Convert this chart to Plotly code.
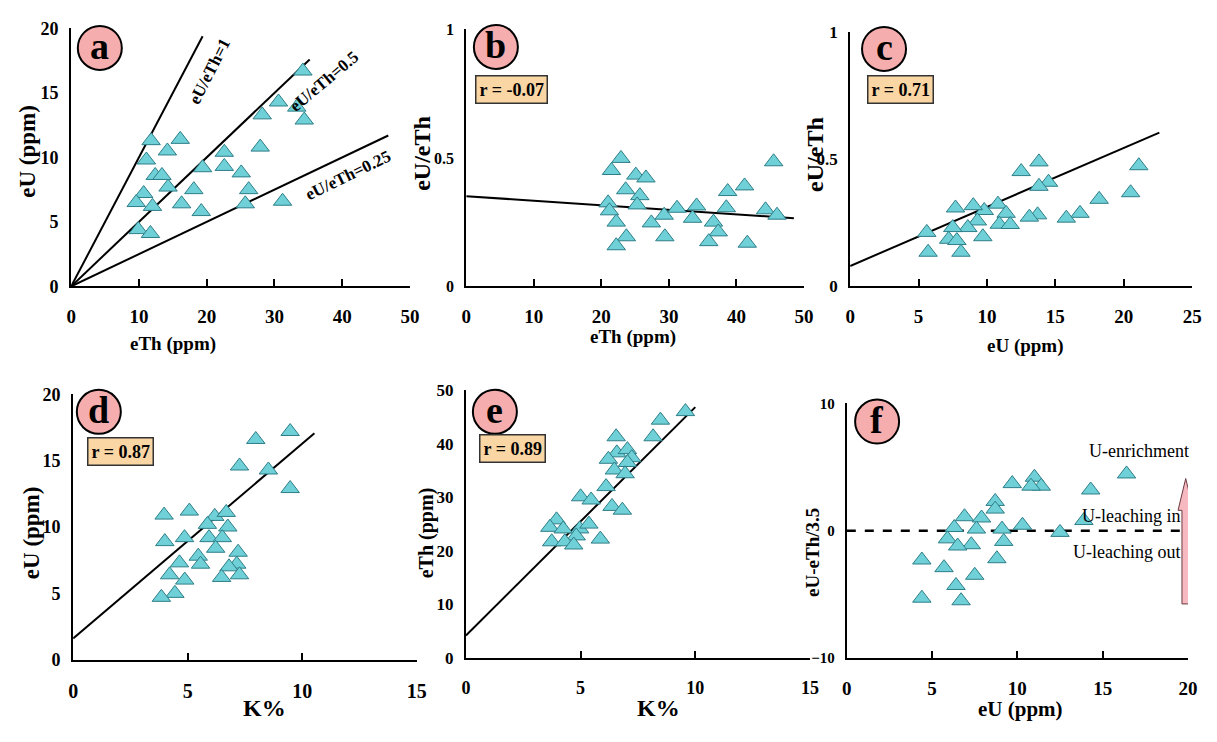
import plotly.graph_objects as go
import numpy as np

W, H = 1217, 742

# ---------------- data ----------------
# Panel a: eTh vs eU
a_eth = [34.2, 30.6, 33.3, 34.4, 28.2, 27.9, 11.8, 16.1, 14.2, 11.1, 22.6, 19.4, 22.6, 25.1,
         12.4, 13.4, 14.3, 18.1, 26.2, 10.7, 9.6, 12.0, 16.3, 19.2, 25.7, 31.2, 9.9, 11.7]
a_eu = [16.7, 14.3, 13.9, 12.9, 13.3, 10.8, 11.3, 11.4, 10.5, 9.8, 10.4, 9.2, 9.3, 8.8,
        8.6, 8.6, 7.7, 7.5, 7.5, 7.2, 6.5, 6.2, 6.4, 5.8, 6.4, 6.6, 4.4, 4.1]
ratio_vals = [1, 0.5, 0.25]
ratio_xend = [19.4, 35.2, 46.8]
ratio_labels = ["eU/eTh=1", "eU/eTh=0.5", "eU/eTh=0.25"]

# Panel b: eTh vs eU/eTh
b_eth = [22.9, 21.5, 25.1, 26.6, 23.6, 25.7, 21.0, 25.3, 21.2, 22.2, 23.7, 22.2, 27.4, 29.3,
         29.4, 31.2, 33.5, 34.1, 36.6, 37.3, 35.9, 38.7, 38.5, 41.2, 41.6, 44.3, 45.5, 46.0]
b_ratio = [0.498, 0.451, 0.433, 0.422, 0.376, 0.353, 0.325, 0.317, 0.294, 0.250, 0.193, 0.158,
           0.247, 0.277, 0.193, 0.304, 0.265, 0.313, 0.250, 0.212, 0.174, 0.369, 0.306, 0.391,
           0.168, 0.298, 0.485, 0.277]
b_fit = dict(intercept=0.351, slope=-0.00177, xmax=48.5, r="r = -0.07")

# Panel c: eU vs eU/eTh
c_eu = [13.8, 12.5, 14.5, 13.8, 21.1, 20.5, 18.2, 16.8, 15.8, 13.7, 13.1, 10.8, 11.4, 10.9,
        11.7, 9.8, 9.0, 7.7, 9.3, 8.6, 7.5, 9.7, 5.6, 7.2, 7.8, 8.1, 5.7]
c_ratio = [0.489, 0.451, 0.409, 0.393, 0.474, 0.368, 0.342, 0.287, 0.268, 0.281, 0.272, 0.323,
           0.287, 0.244, 0.243, 0.298, 0.317, 0.308, 0.257, 0.231, 0.231, 0.195, 0.212, 0.185,
           0.180, 0.134, 0.134]
c_fit = dict(intercept=0.080, slope=0.0232, xmax=22.6, r="r = 0.71")

# Panel d: K% vs eU
d_k = [9.47, 7.97, 7.26, 8.52, 9.47, 3.97, 5.07, 6.18, 6.68, 5.86, 6.75, 4.86, 5.93, 6.51,
       6.22, 4.0, 7.2, 5.46, 4.64, 5.56, 7.14, 6.80, 4.21, 6.48, 7.26, 4.87, 4.44, 3.85]
d_eu = [17.2, 16.6, 14.6, 14.3, 12.9, 10.9, 11.2, 10.8, 11.1, 10.2, 10.0, 9.2, 9.2, 9.2,
        8.4, 8.9, 8.1, 7.8, 7.3, 7.2, 7.2, 7.0, 6.4, 6.2, 6.4, 6.0, 5.0, 4.7]
d_fit = dict(intercept=1.6, slope=1.469, xmax=10.53, r="r = 0.87")

# Panel e: K% vs eTh
e_k = [9.57, 8.48, 8.16, 6.55, 6.58, 7.04, 6.21, 7.23, 7.04, 6.47, 6.94, 6.11, 5.0, 5.46,
       6.37, 6.82, 3.95, 3.66, 4.24, 4.96, 5.36, 4.81, 3.74, 4.31, 4.70, 5.86]
e_eth = [46.0, 44.4, 41.3, 41.3, 38.3, 38.9, 37.1, 37.4, 36.5, 35.1, 34.4, 32.0, 30.1, 29.5,
         28.3, 27.6, 25.8, 24.4, 24.1, 24.1, 25.0, 22.8, 21.7, 21.7, 21.1, 22.2]
e_fit = dict(intercept=4.2, slope=4.264, xmax=10.0, r="r = 0.89")

# Panel f: eU vs eU-eTh/3.5
f_eu = [16.4, 11.0, 11.4, 10.8, 9.7, 14.3, 8.7, 8.7, 6.9, 7.9, 13.9, 6.3, 7.6, 9.1, 10.3, 12.5,
        5.9, 9.2, 7.3, 6.5, 4.4, 8.8, 5.7, 7.5, 6.4, 4.4, 6.7]
f_diff = [4.46, 4.2, 3.5, 3.5, 3.7, 3.2, 2.3, 1.7, 1.1, 1.0, 0.8, 0.25, 0.13, 0.13, 0.43, -0.13,
          -0.64, -0.84, -1.1, -1.2, -2.3, -2.2, -2.9, -3.5, -4.3, -5.3, -5.5]
f_arrow = dict(x=19.87, y0=-5.75, y1=4.1, head_y=1.6, shaft_hw=0.22, head_hw=0.45)

# ---------------- styling ----------------
SERIF = "Liberation Serif, Times New Roman, Times, serif"
TRI_FILL = "#6FD0D7"
TRI_LINE = "#2E7E88"
CIRCLE_FILL = "#F5ADAD"
BOX_FILL = "#FAD6A5"
ARROW_FILL = "#F6B9C0"


def px(x):
    return x / W


def py(y):
    return 1 - y / H


panels = {
    1: dict(x=(67, 410), y=(284, 19), xr=[0, 50], yr=[0, 20], xt=[0, 10, 20, 30, 40, 50], yt=[0, 5, 10, 15, 20],
            yfs=18, xfs=19),
    2: dict(x=(467, 809), y=(284, 20), xr=[0, 50], yr=[0, 1], xt=[0, 10, 20, 30, 40, 50], yt=[0, 0.5, 1],
            yfs=16, xfs=19),
    3: dict(x=(855.7, 1202), y=(284, 22.5), xr=[0, 25], yr=[0, 1], xt=[0, 5, 10, 15, 20, 25], yt=[0, 0.5, 1],
            yfs=17, xfs=19),
    4: dict(x=(69, 417), y=(667.7, 395), xr=[0, 15], yr=[0, 20], xt=[0, 5, 10, 15], yt=[0, 5, 10, 15, 20],
            yfs=18, xfs=20),
    5: dict(x=(466.7, 815), y=(666, 390.7), xr=[0, 15], yr=[0, 50], xt=[0, 5, 10, 15], yt=[0, 10, 20, 30, 40, 50],
            yfs=17, xfs=18),
    6: dict(x=(852.3, 1197.7), y=(666, 404.3), xr=[0, 20], yr=[-10, 10], xt=[0, 5, 10, 15, 20], yt=[-10, 0, 10],
            yfs=15, xfs=19),
}

fig = go.Figure()
layout = dict(autosize=True, margin=dict(l=0, r=0, t=0, b=0), paper_bgcolor="white",
              plot_bgcolor="rgba(0,0,0,0)", showlegend=False)

for i, p in panels.items():
    sx = "" if i == 1 else str(i)
    layout["xaxis" + sx] = dict(
        domain=[px(p["x"][0]), px(p["x"][1])], range=p["xr"], anchor="y" + sx,
        showgrid=False, zeroline=False, showline=True, linecolor="black", linewidth=2,
        ticks="inside", ticklen=7, tickwidth=2, tickcolor="black", tickvals=p["xt"],
        tickfont=dict(family=SERIF, size=p["xfs"], color="black", weight="bold"),
        ticklabelstandoff=12, fixedrange=True)
    layout["yaxis" + sx] = dict(
        domain=[py(p["y"][0]), py(p["y"][1])], range=p["yr"], anchor="x" + sx,
        showgrid=False, zeroline=False, showline=True, linecolor="black", linewidth=2,
        ticks="", tickvals=p["yt"],
        tickfont=dict(family=SERIF, size=p["yfs"], color="black", weight="bold"),
        ticklabelstandoff=7, fixedrange=True)


def tri(x, y, ax):
    fig.add_trace(go.Scatter(x=x, y=y, mode="markers", xaxis="x" + ax, yaxis="y" + ax,
                             marker=dict(symbol="triangle-up", size=16, color=TRI_FILL,
                                         line=dict(color=TRI_LINE, width=1))))


def fitline(fit, ax):
    xs = np.array([0, fit["xmax"]])
    fig.add_trace(go.Scatter(x=xs, y=fit["intercept"] + fit["slope"] * xs, mode="lines",
                             xaxis="x" + ax, yaxis="y" + ax, line=dict(color="black", width=2)))


for rv, xe in zip(ratio_vals, ratio_xend):
    fig.add_trace(go.Scatter(x=[0, xe], y=[0, rv * xe], mode="lines", xaxis="x", yaxis="y",
                             line=dict(color="black", width=2)))
tri(a_eth, a_eu, "")
fitline(b_fit, "2")
tri(b_eth, b_ratio, "2")
fitline(c_fit, "3")
tri(c_eu, c_ratio, "3")
fitline(d_fit, "4")
tri(d_k, d_eu, "4")
fitline(e_fit, "5")
tri(e_k, e_eth, "5")
fig.add_trace(go.Scatter(x=[0, 20], y=[0, 0], mode="lines", xaxis="x6", yaxis="y6",
                         line=dict(color="black", width=2.5, dash="dash")))
tri(f_eu, f_diff, "6")

annotations = []
shapes = []


def text(x, y, t, size, angle=0, bold=True, **kw):
    annotations.append(dict(xref="paper", yref="paper", x=px(x), y=py(y), text=t, showarrow=False,
                            textangle=angle, xanchor="center", yanchor="middle",
                            font=dict(family=SERIF, size=size, color="black",
                                      weight="bold" if bold else "normal"), **kw))


# axis titles
text(170, 343, "eTh (ppm)", 19)
text(22, 145, "eU (ppm)", 23, angle=-90)
text(636, 336, "eTh (ppm)", 19)
text(422, 147, "eU/eTh", 24, angle=-90)
text(1033, 345, "eU (ppm)", 19)
text(820, 148, "eU/eTh", 24, angle=-90)
text(263, 717, "K%", 24)
text(27, 537, "eU (ppm)", 23, angle=-90)
text(662, 717, "K%", 24)
text(427, 537, "eTh (ppm)", 20, angle=-90)
text(1028, 718, "eU (ppm)", 21)
text(818, 557, "eU-eTh/3.5", 19, angle=-90)

# panel letter circles
for (cx, cy, letter) in [(96, 39, "a"), (497, 38, "b"), (890, 40, "c"), (95, 413, "d"), (496, 413, "e"),
                         (883, 423, "f")]:
    shapes.append(dict(type="circle", xref="paper", yref="paper", xsizemode="pixel", ysizemode="pixel",
                       xanchor=px(cx), yanchor=py(cy), x0=-22, x1=22, y0=-22, y1=22,
                       fillcolor=CIRCLE_FILL, line=dict(color="black", width=2)))
    text(cx, cy - 2, letter, 38)

# r boxes
for (cx, cy, fit) in [(513, 82, b_fit), (907, 82, c_fit), (117, 454, d_fit), (514, 451, e_fit)]:
    text(cx, cy, fit["r"], 18, bgcolor=BOX_FILL, bordercolor="#333333", borderwidth=1.5, borderpad=3)

# ratio line labels (panel a)
text(207, 63, ratio_labels[0], 17, angle=-63)
text(323, 73, ratio_labels[1], 17, angle=-40)
text(347, 170, ratio_labels[2], 17, angle=-26)

# panel f labels
text(1148, 453, "U-enrichment", 18, bold=False)
text(1140, 520, "U-leaching in", 18, bold=False)
text(1135, 557, "U-leaching out", 18, bold=False)

ar = f_arrow
path = (f"M {ar['x'] - ar['shaft_hw']},{ar['y0']} L {ar['x'] - ar['shaft_hw']},{ar['head_y']} "
        f"L {ar['x'] - ar['head_hw']},{ar['head_y']} L {ar['x']},{ar['y1']} "
        f"L {ar['x'] + ar['head_hw']},{ar['head_y']} L {ar['x'] + ar['shaft_hw']},{ar['head_y']} "
        f"L {ar['x'] + ar['shaft_hw']},{ar['y0']} Z")
shapes.append(dict(type="path", xref="x6", yref="y6", path=path, fillcolor=ARROW_FILL,
                   line=dict(color="#6B3A40", width=1)))

layout["annotations"] = annotations
layout["shapes"] = shapes
fig.update_layout(**layout)

post = ("var s=document.createElement('style');"
        "s.textContent='html,body{margin:0;padding:0;overflow:hidden;}';"
        "document.head.appendChild(s);"
        "var gd=document.getElementById('{plot_id}');"
        "gd.style.width='100vw';gd.style.height='100vh';"
        "Plotly.Plots.resize(gd);")
fig.write_html("out.html", config=dict(displayModeBar=False, responsive=True), post_script=post,
               default_width="100vw", default_height="100vh")
